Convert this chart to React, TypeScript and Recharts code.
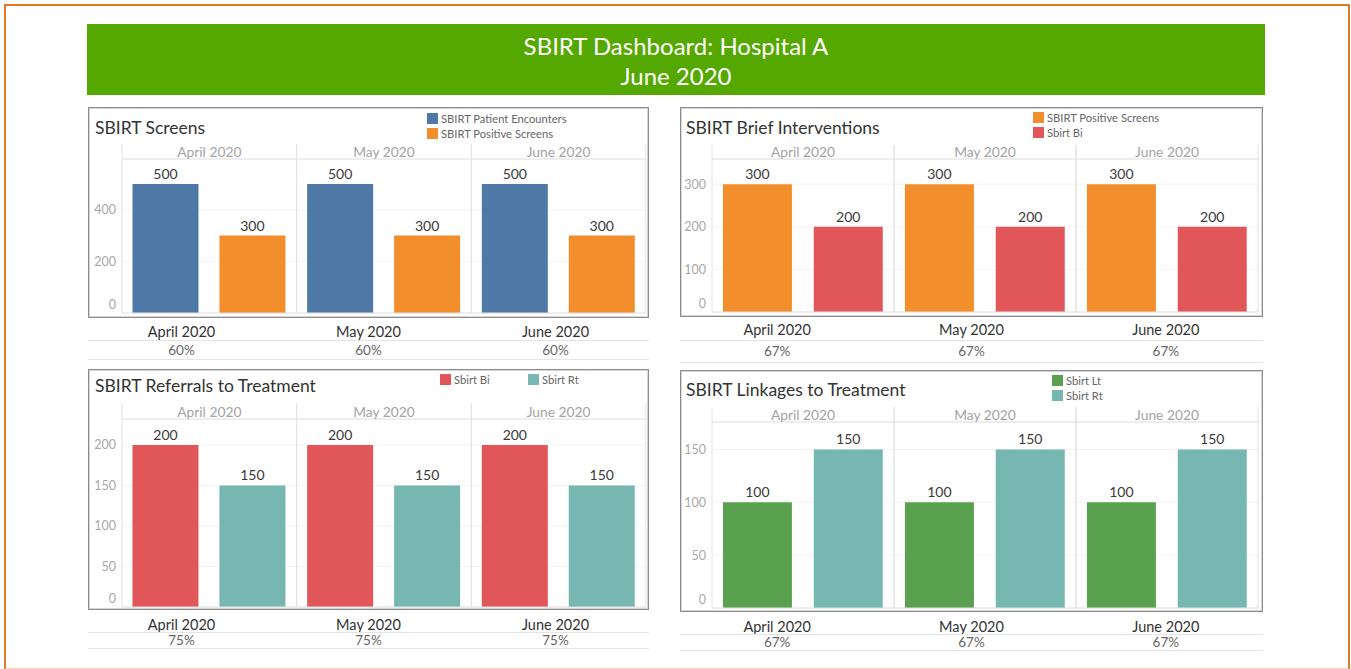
import React from 'react';
import { BarChart, Bar, XAxis, YAxis, CartesianGrid, ReferenceLine, Legend, LabelList } from 'recharts';

const FONT = 'Lato, "Open Sans", sans-serif';

// ---- data ----
const months = ['April 2020', 'May 2020', 'June 2020'];
const patientEncounters = [500, 500, 500];
const positiveScreens = [300, 300, 300];
const sbirtBi = [200, 200, 200];
const sbirtRt = [150, 150, 150];
const sbirtLt = [100, 100, 100];
const screenRates = ['60%', '60%', '60%'];
const biRates = ['67%', '67%', '67%'];
const rtRates = ['75%', '75%', '75%'];
const ltRates = ['67%', '67%', '67%'];
const screensTicks = [0, 200, 400];
const biTicks = [0, 100, 200, 300];
const rtTicks = [0, 50, 100, 150, 200];
const ltTicks = [0, 50, 100, 150];

const COLORS = {
  blue: '#4e79a7',
  orange: '#f28e2b',
  red: '#e15759',
  teal: '#76b7b2',
  green: '#59a14f',
};

type SeriesDef = { key: string; name: string; color: string; values: number[] };

type PanelDef = {
  title: string;
  box: { x: number; y: number; w: number; h: number };
  plotL: number;
  plotR: number;
  plotT: number;
  plotB: number;
  headerTop: number;
  domainMax: number;
  ticks: number[];
  series: SeriesDef[];
  titlePos: { x: number; cy: number };
  legendPos: { x: number; y: number };
  legendHorizontal?: boolean;
  legendItemW?: number;
  rates: string[];
  table: { label: number; line1: number; pct: number; line2: number };
};

const panels: PanelDef[] = [
  {
    title: 'SBIRT Screens',
    box: { x: 88, y: 107, w: 561, h: 211 },
    plotL: 34, plotR: 3, plotT: 52, plotB: 5, headerTop: 37,
    domainMax: 597, ticks: screensTicks,
    series: [
      { key: 'a', name: 'SBIRT Patient Encounters', color: COLORS.blue, values: patientEncounters },
      { key: 'b', name: 'SBIRT Positive Screens', color: COLORS.orange, values: positiveScreens },
    ],
    titlePos: { x: 7, cy: 21 },
    legendPos: { x: 339, y: 3.5 },
    rates: screenRates,
    table: { label: 332, line1: 340, pct: 350, line2: 359 },
  },
  {
    title: 'SBIRT Brief Interventions',
    box: { x: 680, y: 107, w: 583, h: 210 },
    plotL: 32, plotR: 5, plotT: 52, plotB: 5, headerTop: 38,
    domainMax: 359, ticks: biTicks,
    series: [
      { key: 'a', name: 'SBIRT Positive Screens', color: COLORS.orange, values: positiveScreens },
      { key: 'b', name: 'Sbirt Bi', color: COLORS.red, values: sbirtBi },
    ],
    titlePos: { x: 6, cy: 21 },
    legendPos: { x: 353, y: 2.5 },
    rates: biRates,
    table: { label: 330, line1: 340, pct: 351, line2: 362 },
  },
  {
    title: 'SBIRT Referrals to Treatment',
    box: { x: 88, y: 369, w: 561, h: 241 },
    plotL: 34, plotR: 3, plotT: 50, plotB: 3, headerTop: 34,
    domainMax: 232, ticks: rtTicks,
    series: [
      { key: 'a', name: 'Sbirt Bi', color: COLORS.red, values: sbirtBi },
      { key: 'b', name: 'Sbirt Rt', color: COLORS.teal, values: sbirtRt },
    ],
    titlePos: { x: 7, cy: 17 },
    legendPos: { x: 352, y: 2.5 },
    legendHorizontal: true,
    legendItemW: 88,
    rates: rtRates,
    table: { label: 625, line1: 632, pct: 640, line2: 648 },
  },
  {
    title: 'SBIRT Linkages to Treatment',
    box: { x: 680, y: 370, w: 583, h: 242 },
    plotL: 32, plotR: 5, plotT: 52, plotB: 4, headerTop: 37,
    domainMax: 176, ticks: ltTicks,
    series: [
      { key: 'a', name: 'Sbirt Lt', color: COLORS.green, values: sbirtLt },
      { key: 'b', name: 'Sbirt Rt', color: COLORS.teal, values: sbirtRt },
    ],
    titlePos: { x: 6, cy: 20 },
    legendPos: { x: 372, y: 2.5 },
    rates: ltRates,
    table: { label: 627, line1: 634, pct: 642, line2: 650 },
  },
];

const Y_W = 28;

const YTick = (props: any) => {
  const { x, y, payload } = props;
  const dy = payload.value === 0 ? -9 : 0;
  return (
    <text x={x} y={y + dy} textAnchor="end" dominantBaseline="central" fill="#a8a8a8" fontSize={12.5} fontFamily={FONT}>
      {payload.value}
    </text>
  );
};

const makeFacetTick = (half: number, headerTop: number, plotTop: number, baseline: number) => (props: any) => {
  const { x, payload } = props;
  return (
    <g>
      <line x1={x - half} x2={x - half} y1={headerTop} y2={baseline} stroke="#e2e2e2" />
      <line x1={x + half} x2={x + half} y1={headerTop} y2={baseline} stroke="#e2e2e2" />
      <text x={x} y={plotTop - 7.5} textAnchor="middle" dominantBaseline="central" fill="#a3a3a3" fontSize={13.8} fontFamily={FONT}>
        {payload.value}
      </text>
    </g>
  );
};

const makeLegend = (horizontal: boolean, itemW?: number) => (props: any) => {
  const { payload } = props;
  return (
    <div style={{ display: 'flex', flexDirection: horizontal ? 'row' : 'column', fontFamily: FONT }}>
      {(payload || []).map((p: any, i: number) => (
        <div key={i} style={{ display: 'flex', alignItems: 'center', height: 15, width: horizontal ? itemW : undefined }}>
          <span style={{ display: 'inline-block', width: 11, height: 11, background: p.color, marginRight: 3 }} />
          <span style={{ fontSize: 11.2, color: '#666', whiteSpace: 'nowrap' }}>{p.value}</span>
        </div>
      ))}
    </div>
  );
};

const Panel = ({ p }: { p: PanelDef }) => {
  const data = months.map((m, i) => ({ month: m, a: p.series[0].values[i], b: p.series[1].values[i] }));
  const plotW = p.box.w - p.plotL - p.plotR;
  const half = plotW / months.length / 2;
  const baseline = p.box.h - p.plotB;
  const xAxisH = p.plotT - p.headerTop;
  const FacetTick = makeFacetTick(half, p.headerTop, p.plotT, baseline);
  const LegendContent = makeLegend(!!p.legendHorizontal, p.legendItemW);
  return (
    <>
      <div style={{ position: 'absolute', left: p.box.x, top: p.box.y, width: p.box.w, height: p.box.h }}>
        <div
          style={{
            position: 'absolute', left: p.titlePos.x, top: p.titlePos.cy - 11, height: 22, lineHeight: '22px',
            fontSize: 17.5, color: '#333', fontFamily: FONT, whiteSpace: 'nowrap',
          }}
        >
          {p.title}
        </div>
        <div style={{ position: 'absolute', left: 0, top: 0 }}>
          <BarChart
            width={p.box.w}
            height={p.box.h}
            data={data}
            margin={{ top: p.headerTop, right: p.plotR, bottom: p.plotB, left: p.plotL - Y_W }}
            barCategoryGap="6%"
            barGap="12%"
          >
            <CartesianGrid vertical={false} stroke="#f3f3f3" />
            <XAxis
              dataKey="month"
              orientation="top"
              height={xAxisH}
              axisLine={{ stroke: '#e2e2e2' }}
              tickLine={false}
              interval={0}
              tick={<FacetTick />}
            />
            <YAxis
              type="number"
              domain={[0, p.domainMax]}
              ticks={p.ticks}
              interval={0}
              width={Y_W}
              axisLine={false}
              tickLine={false}
              tickSize={4}
              tickMargin={2}
              tick={<YTick />}
            />
            <ReferenceLine y={0} stroke="#e2e2e2" />
            <Legend
              layout="horizontal"
              align="center"
              verticalAlign="middle"
              content={<LegendContent />}
              wrapperStyle={{ left: p.legendPos.x, top: p.legendPos.y, width: 200, height: 'auto' }}
            />
            {p.series.map((s) => (
              <Bar key={s.key} dataKey={s.key} name={s.name} fill={s.color} isAnimationActive={false}>
                <LabelList dataKey={s.key} position="top" offset={5} fill="#3a3a3a" fontSize={14} fontFamily={FONT} />
              </Bar>
            ))}
          </BarChart>
        </div>
        <div
          style={{
            position: 'absolute', left: 0, top: 0, width: p.box.w, height: p.box.h, boxSizing: 'border-box',
            border: '1px solid #8c8c8c', boxShadow: 'inset 0 0 0 1px #d6d6d6', pointerEvents: 'none',
          }}
        />
      </div>
      {/* summary table below panel */}
      <div style={{ position: 'absolute', left: p.box.x, top: p.table.label - 10, width: p.box.w, height: 20, display: 'flex' }}>
        {months.map((m) => (
          <div key={m} style={{ flex: 1, textAlign: 'center', lineHeight: '20px', fontSize: 14.5, color: '#333', fontFamily: FONT }}>
            {m}
          </div>
        ))}
      </div>
      <div style={{ position: 'absolute', left: p.box.x, top: p.table.line1, width: p.box.w, height: 1, background: '#e4e4e4' }} />
      <div style={{ position: 'absolute', left: p.box.x, top: p.table.pct - 9, width: p.box.w, height: 18, display: 'flex' }}>
        {p.rates.map((r, i) => (
          <div key={i} style={{ flex: 1, textAlign: 'center', lineHeight: '18px', fontSize: 13.5, color: '#666', fontFamily: FONT }}>
            {r}
          </div>
        ))}
      </div>
      <div style={{ position: 'absolute', left: p.box.x, top: p.table.line2, width: p.box.w, height: 1, background: '#e4e4e4' }} />
    </>
  );
};

export default function App() {
  return (
    <div style={{ position: 'absolute', left: 0, top: 0, width: 1351, height: 669, background: '#fff', overflow: 'hidden' }}>
      <div
        style={{
          position: 'absolute', left: 4, top: 4, width: 1346, height: 666, boxSizing: 'border-box',
          borderTop: '2px solid #e07a26', borderLeft: '2px solid #e07a26', borderRight: '2px solid #e07a26',
          borderBottom: '2px solid #f3d2b6',
        }}
      />
      <div
        style={{
          position: 'absolute', left: 87, top: 24, width: 1178, height: 71, background: '#55a800',
          color: '#fff', fontFamily: FONT, fontSize: 24, textAlign: 'center',
        }}
      >
        <div style={{ lineHeight: '30px', marginTop: 7 }}>SBIRT Dashboard: Hospital A</div>
        <div style={{ lineHeight: '30px' }}>June 2020</div>
      </div>
      {panels.map((p) => (
        <Panel key={p.title} p={p} />
      ))}
    </div>
  );
}
